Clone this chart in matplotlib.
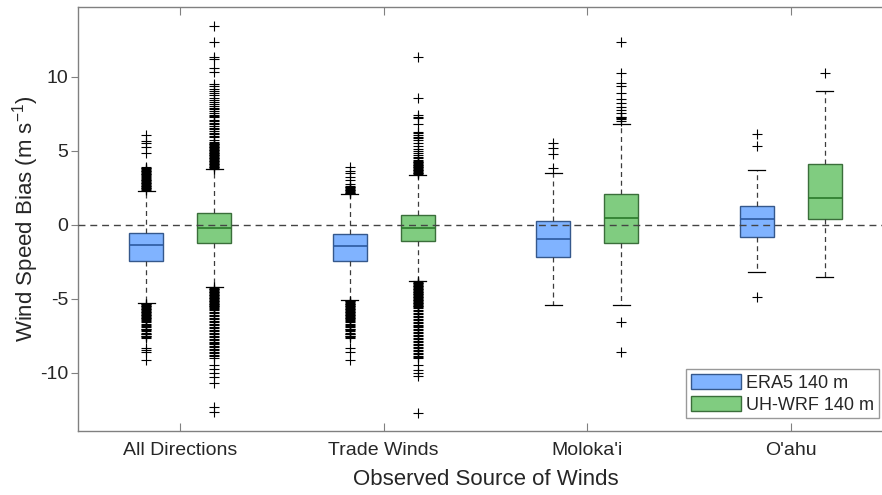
import matplotlib
matplotlib.use("Agg")
import matplotlib.pyplot as plt
from matplotlib.patches import Patch

plt.rcParams['font.family'] = ['Liberation Sans', 'DejaVu Sans']
plt.rcParams['axes.unicode_minus'] = False

categories = ["All Directions", "Trade Winds", "Moloka'i", "O'ahu"]
series_names = ["ERA5 140 m", "UH-WRF 140 m"]

# Box statistics per category: (lower whisker, q1, median, q3, upper whisker)
era5_stats = [
    (-5.29, -2.43, -1.37, -0.54, 2.30),
    (-5.09, -2.43, -1.44, -0.63, 2.07),
    (-5.43, -2.20, -0.99, 0.25, 3.47),
    (-3.18, -0.81, 0.41, 1.28, 3.70),
]
wrf_stats = [
    (-4.19, -1.22, -0.24, 0.77, 3.74),
    (-3.78, -1.10, -0.24, 0.66, 3.36),
    (-5.43, -1.22, 0.43, 2.05, 6.80),
    (-3.51, 0.36, 1.78, 4.08, 9.03),
]

# Outliers per category
era5_fliers = [
    [2.35, 2.4, 2.45, 2.5, 2.55, 2.6, 2.65, 2.7, 2.75, 2.8, 2.85, 2.9, 2.95,
     3.0, 3.05, 3.1, 3.15, 3.24, 3.3, 3.35, 3.4, 3.45, 3.5, 3.55, 3.6, 3.65,
     3.7, 3.75, 3.8, 3.85, 3.92, 4.82, 5.23, 5.5, 5.68, 6.06,
     -5.33, -5.38, -5.43, -5.48, -5.53, -5.58, -5.63, -5.68, -5.73, -5.78,
     -5.83, -5.88, -5.93, -5.98, -6.03, -6.08, -6.13, -6.18, -6.23, -6.28,
     -6.33, -6.38, -6.43, -6.48, -6.55, -6.7, -6.78, -6.85, -6.95, -7.02,
     -7.08, -7.15, -7.22, -7.3, -7.36, -7.42, -7.5, -7.56, -7.62, -7.68,
     -8.31, -8.47, -8.62, -9.14],
    [2.12, 2.17, 2.22, 2.27, 2.32, 2.37, 2.42, 2.47, 2.52, 2.57, 2.62, 2.78,
     3.02, 3.24, 3.47, 3.65, 3.88,
     -5.13, -5.18, -5.23, -5.28, -5.33, -5.38, -5.43, -5.48, -5.53, -5.58,
     -5.63, -5.68, -5.73, -5.78, -5.83, -5.88, -5.93, -5.98, -6.03, -6.08,
     -6.13, -6.18, -6.23, -6.28, -6.33, -6.38, -6.43, -6.48, -6.55, -6.7,
     -6.78, -6.85, -6.95, -7.02, -7.08, -7.15, -7.22, -7.3, -7.36, -7.42,
     -7.5, -7.56, -7.62, -7.68, -8.35, -8.58, -9.14],
    [3.85, 4.78, 5.16, 5.54],
    [5.34, 6.11, -4.86],
]
wrf_fliers = [
    [3.78, 3.83, 3.88, 3.93, 3.98, 4.03, 4.08, 4.13, 4.18, 4.23, 4.28, 4.33,
     4.38, 4.43, 4.48, 4.53, 4.58, 4.63, 4.68, 4.73, 4.78, 4.83, 4.88, 4.93,
     4.98, 5.03, 5.08, 5.13, 5.18, 5.23, 5.28, 5.33, 5.38, 5.43, 5.48, 5.53,
     5.6, 5.75, 5.9, 6.0, 6.1, 6.2, 6.35, 6.45, 6.55, 6.65, 6.8, 6.9, 7.0,
     7.1, 7.25, 7.35, 7.45, 7.55, 7.7, 7.8, 7.9, 8.0, 8.15, 8.3, 8.45, 8.6,
     8.75, 8.9, 9.05, 9.2, 9.35, 9.5, 10.34, 10.57, 11.18, 11.35, 12.32, 13.45,
     -4.23, -4.28, -4.33, -4.38, -4.43, -4.48, -4.53, -4.58, -4.63, -4.68,
     -4.73, -4.78, -4.83, -4.88, -4.93, -4.98, -5.03, -5.08, -5.13, -5.18,
     -5.23, -5.28, -5.33, -5.38, -5.43, -5.48, -5.53, -5.58, -5.63, -5.7,
     -5.8, -5.9, -6.0, -6.1, -6.2, -6.3, -6.4, -6.5, -6.6, -6.7, -6.8, -6.9,
     -7.0, -7.1, -7.2, -7.3, -7.4, -7.5, -7.6, -7.7, -7.8, -7.9, -8.0, -8.1,
     -8.2, -8.3, -8.4, -8.5, -8.6, -8.7, -8.8, -8.9, -9.03, -9.48, -9.75,
     -10.04, -10.27, -10.68, -12.35, -12.65],
    [3.42, 3.47, 3.52, 3.57, 3.62, 3.67, 3.72, 3.77, 3.82, 3.87, 3.92, 3.97,
     4.02, 4.07, 4.12, 4.17, 4.22, 4.27, 4.32, 4.37, 4.5, 4.6, 4.71, 4.85,
     5.0, 5.15, 5.32, 5.54, 5.7, 5.84, 5.95, 6.06, 6.17, 6.28, 6.78, 7.2,
     7.26, 7.41, 8.58, 11.31,
     -3.82, -3.87, -3.92, -3.97, -4.02, -4.07, -4.12, -4.17, -4.22, -4.27,
     -4.32, -4.37, -4.42, -4.47, -4.52, -4.57, -4.62, -4.67, -4.72, -4.77,
     -4.82, -4.87, -4.92, -4.97, -5.02, -5.07, -5.12, -5.17, -5.22, -5.27,
     -5.32, -5.37, -5.42, -5.47, -5.52, -5.57, -5.65, -5.75, -5.85, -5.95,
     -6.05, -6.15, -6.25, -6.35, -6.45, -6.55, -6.65, -6.75, -6.85, -6.95,
     -7.05, -7.15, -7.25, -7.35, -7.45, -7.55, -7.65, -7.75, -7.85, -7.95,
     -8.05, -8.15, -8.25, -8.35, -8.45, -8.55, -8.65, -8.75, -8.85, -8.95,
     -9.03, -9.48, -9.8, -10.04, -10.2, -12.7],
    [7.0, 7.12, 7.19, 7.26, 7.3, 7.53, 7.75, 7.97, 8.24, 8.49, 8.92, 9.37,
     9.59, 10.27, 12.32, -6.6, -8.58],
    [10.27],
]

ytick_values = [-10, -5, 0, 5, 10]

colors = {"face": ["#80b3ff", "#80cc80"],
          "edge": ["#35588c", "#3a6e3a"],
          "median": ["#2c5aa0", "#2a7a2a"]}


def to_bxp(stats, fliers):
    out = []
    for (lo, q1, med, q3, hi), fl in zip(stats, fliers):
        out.append(dict(whislo=lo, q1=q1, med=med, q3=q3, whishi=hi, fliers=fl))
    return out


fig = plt.figure(figsize=(8.82, 4.95), dpi=100)
ax = fig.add_axes([78.3 / 882, (495 - 431) / 495, (892.5 - 78.3) / 882, (431 - 7.3) / 495])

base = [1, 2, 3, 4]
offset = 0.167
width = 0.167
for k, (stats, fliers) in enumerate([(era5_stats, era5_fliers), (wrf_stats, wrf_fliers)]):
    pos = [b + (-offset if k == 0 else offset) for b in base]
    ax.bxp(to_bxp(stats, fliers), positions=pos, widths=width, patch_artist=True,
           manage_ticks=False,
           boxprops=dict(facecolor=colors["face"][k], edgecolor=colors["edge"][k], linewidth=1.0),
           medianprops=dict(color=colors["median"][k], linewidth=1.2),
           whiskerprops=dict(color="#3c3c3c", linewidth=0.9, linestyle=(0, (4, 3))),
           capprops=dict(color="black", linewidth=0.9),
           flierprops=dict(marker="+", markersize=6.5, markeredgecolor="black",
                           markeredgewidth=0.8, linestyle="none"))

ax.axhline(0, color="#444444", linewidth=1.0, linestyle=(0, (5, 3.5)), zorder=5)

ax.set_xlim(0.5, 4.5)
ax.set_ylim(-13.95, 14.7)
ax.set_xticks(base)
ax.set_xticklabels(categories)
ax.set_yticks(ytick_values)

text_color = "#262626"
ax.tick_params(axis="x", direction="in", length=5.5, width=0.8, color="#808080",
               top=True, labelsize=14, labelcolor=text_color, pad=8)
ax.tick_params(axis="y", direction="out", length=4.8, width=0.8, color="#808080",
               labelsize=14, labelcolor=text_color, pad=2.5)
for s in ax.spines.values():
    s.set_color("#808080")
    s.set_linewidth(1.0)

ax.set_ylabel("Wind Speed Bias (m s$^{\\mathregular{-1}}$)", fontsize=16, color=text_color)
ax.yaxis.set_label_coords(-0.0458, 0.5)
ax.set_xlabel("Observed Source of Winds", fontsize=16, color=text_color)
ax.xaxis.set_label_coords(0.5, -0.090)

handles = [Patch(facecolor=colors["face"][i], edgecolor=colors["edge"][i], linewidth=1.0)
           for i in range(2)]
leg = fig.legend(handles, series_names, loc="lower right",
                 bbox_to_anchor=(879 / 882, (495 - 418.3) / 495), borderaxespad=0,
                 fontsize=13, frameon=True, fancybox=False, handlelength=2.8,
                 handleheight=0.9, handletextpad=0.3, labelspacing=0.25,
                 borderpad=0.25)
leg.get_frame().set_edgecolor("#808080")
leg.get_frame().set_linewidth(1.0)
for t in leg.get_texts():
    t.set_color(text_color)

fig.savefig("out.png", dpi=100)
